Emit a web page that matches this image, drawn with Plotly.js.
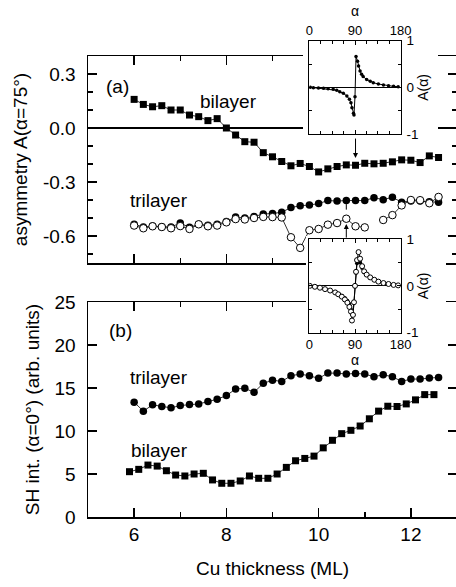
<!DOCTYPE html>
<html><head><meta charset="utf-8">
<script src="https://cdn.plot.ly/plotly-3.0.1.min.js"></script>
<style>html,body{margin:0;padding:0;overflow:hidden;background:#fff}</style>
</head><body><div id="chart" style="width:460px;height:587px"></div>
<script>
// ---- Panel (a): asymmetry A(alpha=75deg) vs Cu thickness ----
const thickA = [6.0,6.2,6.4,6.6,6.8,7.0,7.2,7.4,7.6,7.8,8.0,8.2,8.4,8.6,8.8,9.0,9.2,9.4,9.6,9.8,10.0,10.2,10.4,10.6,10.8,11.0,11.2,11.4,11.6,11.8,12.0,12.2,12.4,12.6];
const bilayerA = [0.159,0.131,0.118,0.124,0.100,0.100,0.072,0.063,0.041,0.052,0.000,-0.039,-0.076,-0.079,-0.137,-0.160,-0.186,-0.210,-0.197,-0.214,-0.244,-0.227,-0.214,-0.205,-0.207,-0.196,-0.199,-0.196,-0.188,-0.177,-0.179,-0.192,-0.155,-0.164];
const trilayerFilledA = [-0.535,-0.550,-0.545,-0.548,-0.550,-0.528,-0.552,-0.535,-0.540,-0.535,-0.520,-0.495,-0.500,-0.492,-0.478,-0.475,-0.468,-0.442,-0.432,-0.428,-0.420,-0.403,-0.406,-0.403,-0.403,-0.403,-0.387,-0.398,-0.385,-0.412,-0.405,-0.405,-0.410,-0.412];
const trilayerOpenA = [-0.542,-0.557,-0.546,-0.550,-0.557,-0.545,-0.561,-0.535,-0.546,-0.542,-0.524,-0.506,-0.508,-0.500,-0.494,-0.495,-0.497,-0.607,-0.666,-0.568,-0.561,-0.537,-0.528,-0.504,-0.546,-0.552,null,-0.511,-0.484,-0.430,-0.400,-0.401,-0.418,-0.383];

// ---- Panel (b): SH intensity vs Cu thickness ----
const thickBiB = [5.9,6.1,6.3,6.5,6.7,6.9,7.1,7.3,7.5,7.7,7.9,8.1,8.3,8.5,8.7,8.9,9.1,9.3,9.5,9.7,9.9,10.1,10.3,10.5,10.7,10.9,11.1,11.3,11.5,11.7,11.9,12.1,12.3,12.5];
const bilayerB = [5.27,5.54,6.04,5.92,5.38,4.88,4.77,5.00,5.08,4.31,3.92,3.92,4.19,4.77,4.50,4.50,5.00,5.77,6.54,6.81,7.08,8.04,8.92,9.69,10.08,10.58,11.42,12.31,12.88,12.85,13.15,13.62,14.23,14.23];
const thickTriB = [6.0,6.2,6.4,6.6,6.8,7.0,7.2,7.4,7.6,7.8,8.0,8.2,8.4,8.6,8.8,9.0,9.2,9.4,9.6,9.8,10.0,10.2,10.4,10.6,10.8,11.0,11.2,11.4,11.6,11.8,12.0,12.2,12.4,12.6];
const trilayerB = [13.35,12.31,13.04,12.85,12.69,12.96,13.08,13.15,13.42,13.69,14.12,14.88,14.96,14.50,15.54,15.90,15.77,16.42,16.62,16.42,16.12,16.73,16.73,16.62,16.69,16.62,16.31,16.54,16.31,15.77,16.04,16.04,16.15,16.23];

// ---- Inset 1 (bilayer, A(alpha)) ----
const inset1Alpha = [2,8,18,28,37,47,54,60,67,74,79,82,84,87,88,90,92,95,97,100,103,106,113,120,126,136,146,156,166,175];
const inset1A = [0,-0.007,-0.014,-0.021,-0.029,-0.043,-0.064,-0.093,-0.129,-0.186,-0.257,-0.329,-0.436,-0.557,-0.593,-0.2,0.66,0.56,0.46,0.35,0.28,0.23,0.17,0.13,0.10,0.071,0.05,0.036,0.021,0.014];

// ---- Inset 2 (trilayer, A(alpha)) ----
const inset2Alpha = [1,11,21,31,41,51,57,64,70,75,79,82,84,86,88,90,92,94,97,100,104,108,113,120,128,136,146,156,166,175];
const inset2Filled = [0,-0.02,-0.04,-0.07,-0.10,-0.13,-0.17,-0.21,-0.26,-0.32,-0.39,-0.50,-0.60,-0.62,-0.35,0.0,0.28,0.48,0.56,0.50,0.38,0.29,0.23,0.17,0.12,0.09,0.06,0.04,0.02,0.01];
const inset2Open = [0,-0.02,-0.04,-0.07,-0.10,-0.14,-0.18,-0.23,-0.29,-0.36,-0.45,-0.55,-0.74,-0.62,-0.35,0.0,0.30,0.55,0.72,0.58,0.42,0.31,0.24,0.18,0.13,0.09,0.06,0.04,0.02,0.01];

const FONT = 'Liberation Sans, Arial, Helvetica, sans-serif';
const W = 460, H = 587, ML = 88, MR = 3;
const PW = W - ML - MR;
const fx = px => (px - ML) / PW;
const fy = py => 1 - py / H;

const line = {color:'#000', width:0.8};
const traces = [
  {x: thickA, y: bilayerA, xaxis:'x', yaxis:'y', mode:'lines+markers', line, marker:{symbol:'square', size:7, color:'#000'}},
  {x: thickA, y: trilayerFilledA, xaxis:'x', yaxis:'y', mode:'lines+markers', line, marker:{symbol:'circle', size:7.5, color:'#000'}},
  {x: thickA, y: trilayerOpenA, xaxis:'x', yaxis:'y', mode:'lines+markers', line, connectgaps:false, marker:{symbol:'circle', size:7.5, color:'#fff', line:{color:'#000', width:1}}},
  {x: thickBiB, y: bilayerB, xaxis:'x2', yaxis:'y2', mode:'lines+markers', line, marker:{symbol:'square', size:7, color:'#000'}},
  {x: thickTriB, y: trilayerB, xaxis:'x2', yaxis:'y2', mode:'lines+markers', line, marker:{symbol:'circle', size:7.5, color:'#000'}},
  {x: [], y: [], xaxis:'x3', yaxis:'y3', mode:'markers', hoverinfo:'skip'},
  {x: [], y: [], xaxis:'x4', yaxis:'y4', mode:'markers', hoverinfo:'skip'},
  {x: inset1Alpha, y: inset1A, xaxis:'x5', yaxis:'y5', mode:'lines+markers', line:{color:'#000', width:1}, marker:{symbol:'circle', size:3.5, color:'#000'}},
  {x: inset2Alpha, y: inset2Filled, xaxis:'x6', yaxis:'y6', mode:'lines+markers', line:{color:'#000', width:1}, marker:{symbol:'circle', size:4, color:'#000'}},
  {x: inset2Alpha, y: inset2Open, xaxis:'x6', yaxis:'y6', mode:'lines+markers', line:{color:'#000', width:1}, marker:{symbol:'circle', size:5, color:'#fff', line:{color:'#000', width:1}}}
];

const mainX = {
  range:[5,13], tickvals:[6,8,10,12], ticks:'inside', ticklen:9, tickwidth:1.5, tickcolor:'#000',
  minor:{dtick:1, tick0:5, ticks:'inside', ticklen:5, tickwidth:1.5, tickcolor:'#000', showgrid:false},
  showline:true, linewidth:1.5, linecolor:'#000', mirror:'allticks', showgrid:false, zeroline:false,
  tickfont:{size:19}, domain:[0,1]
};
const hidden = {visible:false, showgrid:false, zeroline:false, range:[0,1], fixedrange:true};
const insetX = (side, dom, anchor, standoff, tstand) => ({
  domain: dom, anchor, side, range:[0,180], tickvals:[0,90,180], ticks:'inside', ticklen:4, tickwidth:1, tickcolor:'#000',
  minor:{dtick:22.5, tick0:0, ticks:'inside', ticklen:3, tickwidth:1, tickcolor:'#000', showgrid:false},
  showline:true, linewidth:1, linecolor:'#000', mirror:'allticks', showgrid:false, zeroline:false,
  tickfont:{size:13}, ticklabelstandoff:standoff,
  title:{text:'α', font:{size:14}, standoff:tstand}
});
const insetY = (dom, anchor) => ({
  domain: dom, anchor, side:'right', range:[-1,1], tickvals:[-1,0,1], ticktext:['-1','0','1'],
  ticks:'inside', ticklen:4, tickwidth:1, tickcolor:'#000',
  minor:{dtick:0.5, tick0:0, ticks:'inside', ticklen:3, tickwidth:1, tickcolor:'#000', showgrid:false},
  showline:true, linewidth:1, linecolor:'#000', mirror:'allticks', showgrid:false,
  zeroline:true, zerolinecolor:'#000', zerolinewidth:1,
  tickfont:{size:13.5}, ticklabelstandoff:2,
  title:{text:'A(α)', font:{size:14}, standoff:0}
});

const textAnn = (t, px, py) => ({text:t, xref:'paper', yref:'paper', x:fx(px), y:fy(py), xanchor:'center', yanchor:'middle', showarrow:false, font:{size:19}});

const layout = {
  width:W, height:H, margin:{l:ML, r:MR, t:0, b:0},
  paper_bgcolor:'#fff', plot_bgcolor:'#fff', showlegend:false,
  font:{family:FONT, color:'#000', size:19},
  xaxis: Object.assign({}, mainX, {anchor:'y', showticklabels:false}),
  yaxis: {
    domain:[fy(263), fy(56)], anchor:'x', range:[-0.75,0.4],
    tickvals:[-0.6,-0.3,0,0.3], ticktext:['-0.6','-0.3','0.0','0.3'],
    ticks:'inside', ticklen:9, tickwidth:1.5, tickcolor:'#000',
    minor:{dtick:0.1, tick0:0, ticks:'inside', ticklen:5, tickwidth:1.5, tickcolor:'#000', showgrid:false},
    showline:true, linewidth:1.5, linecolor:'#000', mirror:'allticks', showgrid:false,
    zeroline:true, zerolinecolor:'#000', zerolinewidth:1.5,
    tickfont:{size:19}, ticklabelstandoff:7,
    title:{text:'asymmetry A(α=75°)', font:{size:19}, standoff:10}
  },
  xaxis2: Object.assign({}, mainX, {anchor:'y2', title:{text:'Cu thickness (ML)', font:{size:19}, standoff:17}}),
  yaxis2: {
    domain:[fy(517), fy(302)], anchor:'x2', range:[0,25], tickvals:[0,5,10,15,20,25],
    ticks:'inside', ticklen:9, tickwidth:1.5, tickcolor:'#000',
    showline:true, linewidth:1.5, linecolor:'#000', mirror:'allticks', showgrid:false, zeroline:false,
    tickfont:{size:19}, ticklabelstandoff:7,
    title:{text:'SH int. (α=0°) (arb. units)', font:{size:19}, standoff:10}
  },
  xaxis3: Object.assign({}, hidden, {domain:[fx(303), fx(438)], anchor:'y3'}),
  yaxis3: Object.assign({}, hidden, {domain:[fy(137), fy(48)], anchor:'x3'}),
  xaxis4: Object.assign({}, hidden, {domain:[fx(306), fx(446)], anchor:'y4'}),
  yaxis4: Object.assign({}, hidden, {domain:[fy(334), fy(236)], anchor:'x4'}),
  xaxis5: insetX('top', [fx(309.3), fx(400.7)], 'y5', 0, 2),
  yaxis5: insetY([fy(134), fy(40.7)], 'x5'),
  xaxis6: insetX('bottom', [fx(309.3), fx(400.7)], 'y6', 0, 0),
  yaxis6: insetY([fy(332.7), fy(239)], 'x6'),
  annotations: [
    textAnn('(a)', 117, 86),
    textAnn('bilayer', 228, 101),
    textAnn('trilayer', 159, 201),
    textAnn('(b)', 120, 330),
    textAnn('trilayer', 159, 377),
    textAnn('bilayer', 159, 450),
    {xref:'x', yref:'y', x:thickA[24], y:bilayerA[24]+0.04, ax:0, ay:-21, text:'', showarrow:true, arrowhead:2, arrowsize:1, arrowwidth:1, arrowcolor:'#000'},
    {xref:'x', yref:'y', x:thickA[23], y:trilayerOpenA[23]-0.03, ax:0, ay:15, text:'', showarrow:true, arrowhead:2, arrowsize:1, arrowwidth:1, arrowcolor:'#000'},
    {xref:'x', yref:'y', x:thickA[23], y:trilayerFilledA[23]-0.02, ax:0, ay:7, text:'', showarrow:true, arrowhead:0, arrowwidth:1, arrowcolor:'#000'}
  ]
};

Plotly.newPlot('chart', traces, layout, {displayModeBar:false, staticPlot:true});
</script>
</body></html>
